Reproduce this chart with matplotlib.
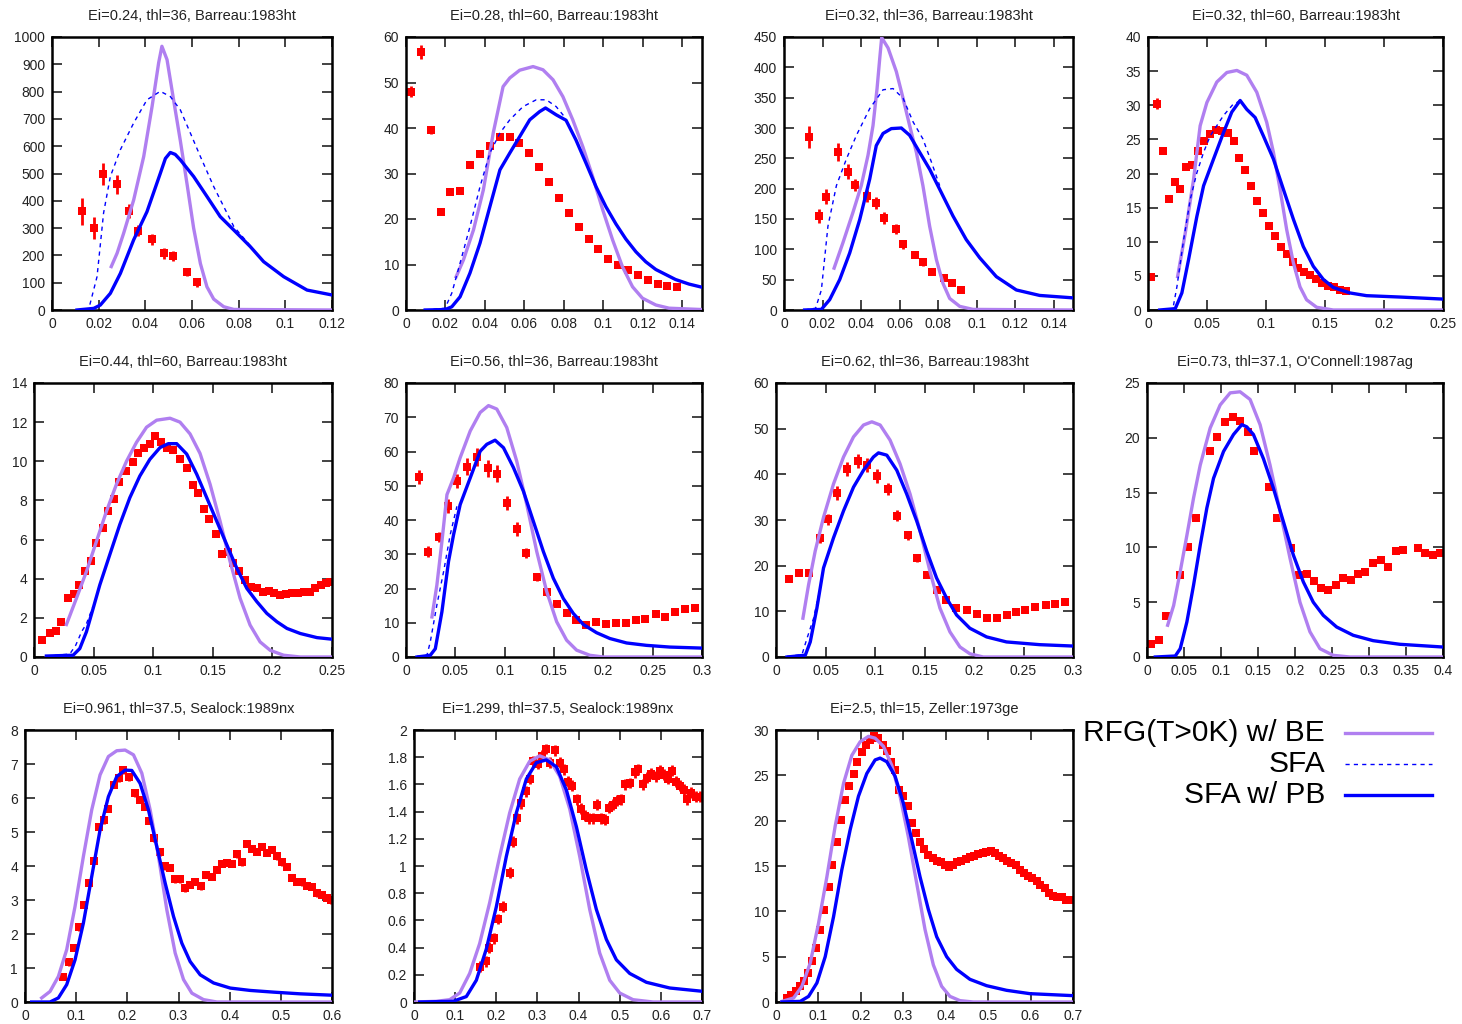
import matplotlib
matplotlib.use("Agg")
import matplotlib.pyplot as plt
from matplotlib.lines import Line2D
from matplotlib.ticker import MultipleLocator, FuncFormatter

plt.rcParams['font.family'] = ['Liberation Sans', 'DejaVu Sans']

PURPLE = '#b07ff0'
BLUE = '#0000ff'
RED = '#ff0000'

# ---- panel 1: Ei=0.24, thl=36
p1_x = [0.013, 0.018, 0.022, 0.028, 0.033, 0.037, 0.043, 0.048, 0.052, 0.058, 0.062]
p1_y = [361, 300, 497, 461, 363, 290, 259, 208, 198, 138, 101]
p1_err = [49, 40, 40, 35, 25, 20, 20, 20, 18, 15, 15]
p1_rfg_x = [0.0254, 0.0279, 0.0307, 0.035, 0.0393, 0.0429, 0.0457, 0.0471, 0.0493, 0.0521, 0.055, 0.0579,
            0.0607, 0.0636, 0.0664, 0.0693, 0.0736, 0.0779, 0.12]
p1_rfg_y = [159, 208, 281, 403, 562, 746, 905, 966, 917, 770, 620, 460, 300, 170, 85, 40, 12, 2, 0]
p1_sfa_x = [0.0107, 0.0157, 0.0193, 0.0221, 0.025, 0.0293, 0.035, 0.0407, 0.0464, 0.0507, 0.055, 0.0593,
            0.0636, 0.0693, 0.075, 0.0779, 0.085]
p1_sfa_y = [0, 2, 122, 355, 489, 587, 685, 770, 801, 782, 733, 648, 562, 452, 355, 306, 235]
p1_pb_x = [0.0107, 0.0179, 0.0207, 0.025, 0.0293, 0.035, 0.0407, 0.0464, 0.0486, 0.0507, 0.0528, 0.055,
           0.0607, 0.0664, 0.0721, 0.0779, 0.085, 0.0907, 0.0993, 0.1093, 0.12]
p1_pb_y = [0, 6, 18, 61, 134, 257, 360, 500, 555, 577, 570, 550, 489, 416, 342, 293, 232, 177, 122, 73, 55]

# ---- panel 2: Ei=0.28, thl=60
p2_x = [0.0025, 0.0075, 0.0125, 0.0175, 0.0225, 0.0275, 0.0325, 0.0375, 0.0425, 0.0475, 0.0525, 0.0575,
        0.0625, 0.0675, 0.0725, 0.0775, 0.0825, 0.0875, 0.0925, 0.0975, 0.1025, 0.1075, 0.1125, 0.1175,
        0.1225, 0.1275, 0.1325, 0.1375]
p2_y = [48.0, 56.7, 39.5, 21.6, 26.0, 26.2, 31.8, 34.3, 36.1, 38.0, 38.0, 36.6, 34.5, 31.5, 28.2, 24.7,
        21.3, 18.3, 15.6, 13.4, 11.3, 10.0, 8.7, 7.6, 6.5, 5.8, 5.3, 5.0]
p2_err = [1.2, 1.5, 0.8, 0.6, 0.6, 0.6, 0.6, 0.6, 0.6, 0.6, 0.6, 0.6, 0.5, 0.5, 0.5, 0.5, 0.5, 0.4, 0.4,
          0.4, 0.4, 0.4, 0.3, 0.3, 0.3, 0.3, 0.3, 0.3]
p2_rfg_x = [0.0254, 0.0291, 0.0342, 0.0392, 0.0442, 0.0492, 0.0526, 0.0576, 0.0644, 0.0694, 0.0745, 0.0795,
            0.0845, 0.0896, 0.0946, 0.0997, 0.1047, 0.1097, 0.1148, 0.1198, 0.1266, 0.1333, 0.15]
p2_rfg_y = [7.3, 11.0, 17.6, 26.4, 38.9, 49.1, 51.0, 52.7, 53.5, 52.8, 50.6, 46.9, 41.8, 35.9, 29.3, 22.0,
            15.4, 9.5, 5.1, 2.6, 1.1, 0.4, 0.1]
p2_sfa_x = [0.0097, 0.0198, 0.0232, 0.0274, 0.0324, 0.0375, 0.0425, 0.0476, 0.0526, 0.0593, 0.066, 0.0711,
            0.0761, 0.0795, 0.0811]
p2_sfa_y = [0, 0.4, 3.7, 10.3, 18.3, 27.1, 34.5, 38.9, 41.8, 44.7, 46.2, 46.2, 44.7, 42.9, 41.7]
p2_pb_x = [0.0097, 0.0198, 0.0232, 0.0274, 0.0324, 0.0375, 0.0425, 0.0476, 0.0526, 0.0576, 0.0627, 0.0677,
           0.0707, 0.0761, 0.0811, 0.0861, 0.0912, 0.0963, 0.1013, 0.1064, 0.1114, 0.1165, 0.1215, 0.1266,
           0.1316, 0.1366, 0.1434, 0.15]
p2_pb_y = [0, 0.1, 0.7, 2.9, 8.1, 14.7, 22.7, 30.8, 34.5, 38.1, 41.8, 43.6, 44.4, 42.9, 41.7, 37.4, 32.3,
           27.1, 22.7, 18.9, 15.6, 12.8, 10.6, 8.9, 7.8, 6.7, 5.7, 5.0]

# ---- panel 3: Ei=0.32, thl=36
p3_x = [0.013, 0.018, 0.022, 0.028, 0.033, 0.037, 0.043, 0.048, 0.052, 0.058, 0.062, 0.068, 0.072, 0.077,
        0.083, 0.087, 0.092]
p3_y = [285, 155, 187, 261, 228, 206, 188, 177, 152, 134, 108, 91, 79, 62, 52, 44, 33]
p3_err = [18, 12, 12, 15, 12, 10, 10, 10, 10, 8, 8, 6, 6, 5, 5, 4, 4]
p3_rfg_x = [0.026, 0.0306, 0.0358, 0.0401, 0.0436, 0.0462, 0.0483, 0.0497, 0.0507, 0.054, 0.0583, 0.0618,
            0.0652, 0.0687, 0.0721, 0.0756, 0.0791, 0.0825, 0.086, 0.0912, 0.0981, 0.15]
p3_rfg_y = [69, 111, 161, 205, 255, 304, 365, 415, 449, 432, 393, 349, 304, 260, 205, 138, 83, 44, 19, 6,
            1, 0]
p3_sfa_x = [0.0107, 0.0164, 0.0194, 0.0228, 0.0272, 0.0324, 0.0376, 0.0445, 0.0514, 0.0566, 0.0618, 0.067,
            0.0721, 0.0765, 0.0808]
p3_sfa_y = [0, 3, 33, 138, 205, 249, 288, 332, 363, 365, 349, 310, 282, 244, 205]
p3_pb_x = [0.0107, 0.0194, 0.0237, 0.0289, 0.0341, 0.0393, 0.0445, 0.0479, 0.0514, 0.0557, 0.0609, 0.0652,
           0.0704, 0.0756, 0.0808, 0.0877, 0.0946, 0.1016, 0.1102, 0.1206, 0.1327, 0.1414, 0.15]
p3_pb_y = [0, 1, 17, 50, 94, 149, 216, 271, 291, 299, 300, 288, 260, 232, 199, 155, 116, 86, 55, 33, 24,
           22, 20]

# ---- panel 4: Ei=0.32, thl=60
p4_x = [0.0025, 0.0075, 0.0125, 0.0175, 0.0225, 0.0275, 0.0325, 0.0375, 0.0425, 0.0475, 0.0525, 0.0575,
        0.0625, 0.0675, 0.0725, 0.0775, 0.0825, 0.0875, 0.0925, 0.0975, 0.1025, 0.1075, 0.1125, 0.1175,
        0.1225, 0.1275, 0.1325, 0.1375, 0.1425, 0.1475, 0.1525, 0.1575, 0.1625, 0.1675]
p4_y = [4.8, 30.2, 23.3, 16.3, 18.7, 17.7, 20.9, 21.3, 23.3, 24.8, 25.8, 26.4, 26.3, 26.0, 24.8, 22.3, 20.5,
        18.2, 16.0, 14.2, 12.3, 10.8, 9.3, 8.2, 7.1, 6.2, 5.6, 5.2, 4.5, 3.9, 3.5, 3.3, 3.0, 2.8]
p4_err = [0.3, 0.8] + [0.3] * 32
p4_rfg_x = [0.0251, 0.0316, 0.0386, 0.0442, 0.0499, 0.0583, 0.0668, 0.0753, 0.0837, 0.0922, 0.1006, 0.1063,
            0.1119, 0.1175, 0.1232, 0.1288, 0.1344, 0.1429, 0.157, 0.25]
p4_rfg_y = [4.9, 11.3, 19.1, 27.0, 30.4, 33.4, 34.8, 35.1, 34.4, 31.9, 27.5, 23.1, 17.7, 11.8, 6.9, 3.4,
            1.5, 0.4, 0, 0]
p4_sfa_x = [0.0099, 0.0211, 0.0245, 0.0302, 0.0358, 0.0414, 0.0471, 0.0527, 0.0583, 0.064, 0.0724, 0.0753,
            0.0781]
p4_sfa_y = [0, 0.2, 3.4, 10.3, 16.2, 20.1, 23.1, 25.5, 27.0, 28.5, 30.2, 30.4, 30.7]
p4_pb_x = [0.0099, 0.0231, 0.0287, 0.0344, 0.0414, 0.0471, 0.0555, 0.064, 0.071, 0.0781, 0.0837, 0.0908,
           0.0978, 0.1063, 0.1147, 0.1232, 0.1316, 0.1401, 0.1485, 0.157, 0.1711, 0.1852, 0.2134, 0.25]
p4_pb_y = [0, 0.2, 2.5, 7.4, 13.7, 18.2, 22.1, 26.0, 29.0, 30.7, 29.4, 28.2, 25.5, 22.1, 17.7, 13.3, 9.3,
           6.4, 4.5, 3.3, 2.5, 2.1, 1.9, 1.6]

# ---- panel 5: Ei=0.44, thl=60
p5_x = [0.007, 0.0132, 0.0182, 0.0224, 0.0289, 0.0334, 0.0376, 0.0432, 0.0476, 0.0524, 0.0575, 0.0622,
        0.0673, 0.0715, 0.0771, 0.0827, 0.0874, 0.0925, 0.0975, 0.1015, 0.1065, 0.1113, 0.1169, 0.1225,
        0.1281, 0.1331, 0.1379, 0.1427, 0.1471, 0.1525, 0.1575, 0.1625, 0.1673, 0.1721, 0.1771, 0.1819,
        0.1869, 0.192, 0.197, 0.2015, 0.2065, 0.2116, 0.2166, 0.2214, 0.2262, 0.2312, 0.236, 0.2407,
        0.2452, 0.2486]
p5_y = [0.86, 1.25, 1.34, 1.80, 3.0, 3.2, 3.68, 4.37, 4.92, 5.83, 6.6, 7.45, 8.09, 8.96, 9.48, 9.94, 10.4,
        10.7, 10.9, 11.3, 11.0, 10.7, 10.6, 10.1, 9.65, 8.79, 8.4, 7.57, 7.03, 6.31, 5.28, 5.36, 4.80, 4.40,
        3.94, 3.6, 3.51, 3.31, 3.38, 3.26, 3.17, 3.2, 3.26, 3.26, 3.31, 3.34, 3.55, 3.68, 3.77, 3.82]
p5_err = [0.1] * 50
p5_rfg_x = [0.0272, 0.0356, 0.044, 0.0524, 0.0608, 0.0692, 0.0776, 0.086, 0.0944, 0.1029, 0.1141, 0.1225,
            0.1309, 0.1393, 0.1477, 0.1561, 0.1645, 0.1729, 0.1813, 0.1897, 0.1982, 0.2094, 0.2234, 0.25]
p5_rfg_y = [1.66, 3.0, 4.37, 5.91, 7.45, 8.83, 10.0, 10.97, 11.74, 12.1, 12.2, 12.0, 11.4, 10.4, 8.83, 6.94,
            4.88, 3.0, 1.63, 0.77, 0.34, 0.09, 0, 0]
p5_sfa_x = [0.0104, 0.0300, 0.0350, 0.0400, 0.0440, 0.0496]
p5_sfa_y = [0.05, 0.15, 0.6, 1.3, 1.7, 2.6]
p5_pb_x = [0.0104, 0.0328, 0.0384, 0.044, 0.0496, 0.0552, 0.0636, 0.072, 0.0804, 0.0888, 0.0972, 0.1057,
           0.1127, 0.1197, 0.1281, 0.1365, 0.1449, 0.1533, 0.1617, 0.1701, 0.1785, 0.1869, 0.1953, 0.2038,
           0.2122, 0.2234, 0.2374, 0.25]
p5_pb_y = [0.05, 0.09, 0.43, 1.29, 2.48, 3.68, 5.23, 6.77, 8.14, 9.25, 10.1, 10.7, 10.9, 10.9, 10.37, 9.34,
           8.14, 6.94, 5.74, 4.54, 3.51, 2.83, 2.23, 1.8, 1.46, 1.2, 0.99, 0.91]

# ---- panel 6: Ei=0.56, thl=36
p6_x = [0.013, 0.022, 0.033, 0.043, 0.052, 0.062, 0.072, 0.083, 0.092, 0.102, 0.113, 0.122, 0.133, 0.143,
        0.153, 0.163, 0.172, 0.182, 0.193, 0.203, 0.213, 0.223, 0.233, 0.242, 0.253, 0.263, 0.273, 0.283,
        0.293]
p6_y = [52.5, 30.8, 35.0, 44.0, 51.3, 55.5, 58.4, 55.1, 53.5, 45.0, 37.4, 30.3, 23.3, 18.9, 15.6, 12.9,
        10.8, 9.3, 10.1, 9.7, 10.0, 10.0, 10.7, 11.0, 12.7, 11.7, 13.2, 13.9, 14.2]
p6_err = [2, 1.5, 1.5, 2, 2, 2.5, 2.5, 2.5, 2.5, 2, 2, 1.5, 1, 1, 1, 1, 0.8, 0.8, 0.8, 0.8, 0.8, 0.8,
          0.8, 0.8, 0.8, 0.8, 0.8, 0.8, 0.8]
p6_rfg_x = [0.0263, 0.0313, 0.0364, 0.0415, 0.0482, 0.0549, 0.0651, 0.0752, 0.0836, 0.092, 0.1021, 0.1122,
            0.1224, 0.1325, 0.1426, 0.1527, 0.1628, 0.1729, 0.1864, 0.2, 0.3]
p6_rfg_y = [11.7, 21.0, 33.7, 47.4, 52.3, 58.2, 66.0, 71.4, 73.4, 72.4, 67.0, 57.2, 44.5, 30.8, 19.1, 10.3,
            4.9, 2.0, 0.5, 0, 0]
p6_sfa_x = [0.0111, 0.0212, 0.0246, 0.0313, 0.0381, 0.0448, 0.0516]
p6_sfa_y = [0.2, 0.5, 4.4, 15.2, 24.9, 35.7, 44.0]
p6_pb_x = [0.0111, 0.0246, 0.0297, 0.0364, 0.0431, 0.0482, 0.0549, 0.0651, 0.0752, 0.0819, 0.0903, 0.0988,
           0.1089, 0.119, 0.1291, 0.1392, 0.1493, 0.1594, 0.1696, 0.1797, 0.1931, 0.2066, 0.2235, 0.2437,
           0.2673, 0.3]
p6_pb_y = [0, 0.5, 2.4, 13.2, 27.9, 35.7, 44.5, 52.3, 60.1, 62.1, 63.3, 61.1, 55.3, 48.4, 39.6, 30.8, 23.0,
           17.1, 12.7, 9.5, 7.1, 5.4, 4.1, 3.4, 2.9, 2.6]

# ---- panel 7: Ei=0.62, thl=36
p7_x = [0.013, 0.023, 0.033, 0.044, 0.053, 0.062, 0.072, 0.083, 0.092, 0.102, 0.113, 0.122, 0.133, 0.142,
        0.153, 0.163, 0.172, 0.182, 0.193, 0.203, 0.213, 0.223, 0.233, 0.242, 0.252, 0.262, 0.273, 0.282,
        0.292]
p7_y = [17.1, 18.4, 18.4, 26.0, 30.2, 35.9, 41.2, 42.9, 42.1, 39.6, 36.7, 30.9, 26.7, 21.7, 17.9, 14.7,
        12.4, 10.8, 10.2, 9.4, 8.5, 8.6, 9.3, 9.9, 10.2, 11.0, 11.3, 11.6, 12.1]
p7_err = [0.6, 0.6, 0.6, 1.0, 1.2, 1.5, 1.5, 1.5, 1.5, 1.5, 1.3, 1.2, 1.0, 0.8, 0.7, 0.6, 0.5, 0.5, 0.5,
          0.5, 0.5, 0.5, 0.5, 0.5, 0.5, 0.5, 0.5, 0.5, 0.5]
p7_rfg_x = [0.0272, 0.0329, 0.0396, 0.048, 0.0581, 0.0682, 0.0783, 0.0884, 0.0968, 0.1052, 0.1152, 0.1253,
            0.1354, 0.1455, 0.1555, 0.1656, 0.1757, 0.1858, 0.1959, 0.2093, 0.3]
p7_rfg_y = [8.5, 15.8, 23.2, 30.6, 37.9, 43.8, 48.2, 50.8, 51.5, 50.8, 47.5, 42.3, 35.7, 27.6, 18.8, 10.7,
            5.5, 2.2, 0.7, 0, 0]
p7_sfa_x = [0.0111, 0.0262, 0.0312, 0.038, 0.0447]
p7_sfa_y = [0.15, 0.5, 4.0, 8.5, 15.1]
p7_pb_x = [0.0111, 0.0296, 0.0346, 0.0413, 0.048, 0.0581, 0.0682, 0.0783, 0.0884, 0.0984, 0.1035, 0.1119,
           0.122, 0.132, 0.1421, 0.1522, 0.1622, 0.1723, 0.1824, 0.1958, 0.2127, 0.2328, 0.2664, 0.3]
p7_pb_y = [0, 0.4, 3.3, 10.7, 19.5, 26.1, 32.0, 37.2, 40.9, 43.8, 44.7, 44.2, 40.9, 35.7, 29.8, 23.2, 17.3,
           12.9, 9.2, 6.3, 4.4, 3.3, 2.7, 2.4]

# ---- panel 8: Ei=0.73, thl=37.1
p8_x = [0.005, 0.016, 0.026, 0.044, 0.055, 0.066, 0.085, 0.095, 0.106, 0.116, 0.126, 0.136, 0.145, 0.165,
        0.175, 0.195, 0.206, 0.216, 0.226, 0.235, 0.245, 0.255, 0.265, 0.276, 0.285, 0.295, 0.306, 0.316,
        0.326, 0.336, 0.346, 0.366, 0.376, 0.386, 0.396]
p8_y = [1.16, 1.52, 3.72, 7.47, 10.0, 12.65, 18.8, 20.1, 21.4, 21.9, 21.5, 20.5, 18.8, 15.5, 12.7, 9.9,
        7.47, 7.6, 6.9, 6.3, 6.1, 6.56, 7.17, 7.07, 7.6, 7.77, 8.54, 8.84, 8.23, 9.67, 9.76, 9.9, 9.51, 9.3,
        9.45]
p8_err = [0.2] * 35
p8_rfg_x = [0.0279, 0.036, 0.0449, 0.0539, 0.0629, 0.0719, 0.0854, 0.0989, 0.1124, 0.1258, 0.1393, 0.1528,
            0.1663, 0.1798, 0.1933, 0.2067, 0.2202, 0.2337, 0.2517, 0.2742, 0.4]
p8_rfg_y = [2.9, 4.7, 7.8, 11.1, 14.5, 17.5, 20.9, 23.0, 24.1, 24.2, 23.5, 21.2, 17.5, 13.3, 9.0, 5.0, 2.3,
            0.76, 0.15, 0, 0]
p8_pb_x = [0.0112, 0.0382, 0.0449, 0.0539, 0.0629, 0.0719, 0.0809, 0.0899, 0.1034, 0.1169, 0.1281, 0.1348,
           0.1438, 0.1573, 0.1708, 0.1843, 0.1978, 0.2112, 0.2247, 0.2382, 0.2562, 0.2787, 0.3056, 0.3416,
           0.4]
p8_pb_y = [0, 0.09, 0.76, 3.2, 6.55, 10.2, 13.6, 16.3, 18.75, 20.3, 21.2, 21.0, 20.3, 18.1, 15.4, 12.35,
           9.3, 6.86, 5.0, 3.8, 2.74, 1.98, 1.49, 1.16, 0.91]

# ---- panel 9: Ei=0.961, thl=37.5
p9_x = [0.075, 0.086, 0.096, 0.106, 0.116, 0.125, 0.134, 0.145, 0.154, 0.163, 0.173, 0.183, 0.192, 0.204,
        0.215, 0.224, 0.234, 0.243, 0.252, 0.263, 0.274, 0.284, 0.294, 0.303, 0.313, 0.323, 0.333, 0.344,
        0.354, 0.365, 0.375, 0.385, 0.395, 0.404, 0.414, 0.424, 0.434, 0.444, 0.453, 0.463, 0.473, 0.483,
        0.492, 0.502, 0.512, 0.522, 0.532, 0.541, 0.551, 0.561, 0.571, 0.580, 0.590, 0.598]
p9_y = [0.75, 1.17, 1.59, 2.2, 2.86, 3.5, 4.15, 5.14, 5.34, 5.68, 6.38, 6.58, 6.82, 6.61, 6.14, 5.94, 5.75,
        5.33, 4.82, 4.4, 3.99, 3.94, 3.61, 3.61, 3.35, 3.45, 3.54, 3.40, 3.74, 3.69, 3.89, 4.06, 4.10, 4.06,
        4.35, 4.11, 4.65, 4.50, 4.41, 4.57, 4.38, 4.48, 4.28, 4.11, 3.97, 3.66, 3.54, 3.52, 3.42, 3.38, 3.2,
        3.15, 3.06, 2.99]
p9_err = [0.1] * 54
p9_rfg_x = [0.0326, 0.0489, 0.0652, 0.0815, 0.0978, 0.1141, 0.1304, 0.1467, 0.163, 0.1793, 0.1957, 0.212,
            0.2283, 0.2446, 0.2609, 0.2772, 0.2935, 0.3098, 0.3261, 0.3489, 0.375, 0.6]
p9_rfg_y = [0.12, 0.31, 0.75, 1.54, 2.81, 4.28, 5.65, 6.68, 7.22, 7.39, 7.41, 7.27, 6.73, 5.65, 4.28, 2.71,
            1.44, 0.66, 0.26, 0.07, 0, 0]
p9_pb_x = [0.013, 0.0489, 0.0652, 0.0815, 0.0978, 0.1141, 0.1304, 0.1467, 0.163, 0.1793, 0.1957, 0.2087,
           0.225, 0.2413, 0.2576, 0.2739, 0.2902, 0.3065, 0.3228, 0.3424, 0.3685, 0.4011, 0.4402, 0.4859,
           0.538, 0.6]
p9_pb_y = [0, 0, 0.12, 0.51, 1.24, 2.32, 3.69, 5.06, 6.04, 6.63, 6.82, 6.81, 6.43, 5.65, 4.57, 3.5, 2.52,
           1.73, 1.19, 0.8, 0.56, 0.41, 0.34, 0.29, 0.24, 0.2]

# ---- panel 10: Ei=1.299, thl=37.5
p10_x = [0.160, 0.174, 0.182, 0.194, 0.204, 0.216, 0.233, 0.241, 0.250, 0.261, 0.272, 0.283, 0.290, 0.301,
         0.312, 0.322, 0.331, 0.343, 0.354, 0.365, 0.374, 0.385, 0.395, 0.407, 0.415, 0.425, 0.434, 0.445,
         0.455, 0.464, 0.473, 0.484, 0.494, 0.504, 0.514, 0.524, 0.536, 0.544, 0.557, 0.566, 0.577, 0.587,
         0.597, 0.607, 0.617, 0.626, 0.636, 0.646, 0.656, 0.664, 0.674, 0.685, 0.694]
p10_y = [0.26, 0.30, 0.40, 0.47, 0.61, 0.70, 0.95, 1.18, 1.35, 1.46, 1.55, 1.64, 1.77, 1.75, 1.81, 1.86,
         1.76, 1.85, 1.76, 1.71, 1.62, 1.59, 1.49, 1.42, 1.37, 1.35, 1.35, 1.45, 1.35, 1.34, 1.43, 1.45, 1.48,
         1.49, 1.60, 1.61, 1.69, 1.71, 1.60, 1.65, 1.68, 1.66, 1.70, 1.67, 1.64, 1.70, 1.62, 1.59, 1.56, 1.49,
         1.54, 1.51, 1.51]
p10_err = [0.04] * 53
p10_rfg_x = [0.0, 0.0543, 0.0867, 0.111, 0.1353, 0.1596, 0.1839, 0.2082, 0.2325, 0.2569, 0.2812, 0.3055,
             0.3298, 0.3541, 0.3785, 0.4028, 0.4271, 0.4514, 0.4757, 0.5, 0.5324, 0.581, 0.7]
p10_rfg_y = [0, 0.005, 0.017, 0.066, 0.21, 0.43, 0.73, 1.07, 1.39, 1.64, 1.77, 1.81, 1.78, 1.66, 1.42, 1.07,
             0.68, 0.36, 0.16, 0.066, 0.017, 0, 0]
p10_pb_x = [0.0138, 0.0948, 0.1272, 0.1515, 0.1758, 0.2001, 0.2244, 0.2487, 0.2731, 0.2974, 0.3217, 0.346,
            0.3703, 0.3946, 0.4189, 0.4433, 0.4676, 0.4919, 0.5243, 0.5648, 0.6215, 0.7]
p10_pb_y = [0, 0.005, 0.04, 0.16, 0.39, 0.7, 1.07, 1.39, 1.64, 1.76, 1.78, 1.73, 1.56, 1.29, 0.97, 0.68,
            0.46, 0.31, 0.21, 0.145, 0.103, 0.079]

# ---- panel 11: Ei=2.5, thl=15
p11_x = [0.026, 0.035, 0.046, 0.056, 0.065, 0.075, 0.085, 0.095, 0.104, 0.114, 0.124, 0.133, 0.143, 0.153,
         0.163, 0.173, 0.183, 0.192, 0.202, 0.212, 0.222, 0.231, 0.241, 0.252, 0.261, 0.270, 0.281, 0.291,
         0.300, 0.310, 0.320, 0.330, 0.339, 0.349, 0.359, 0.369, 0.379, 0.388, 0.398, 0.408, 0.418, 0.427,
         0.437, 0.448, 0.457, 0.466, 0.477, 0.487, 0.496, 0.506, 0.516, 0.526, 0.535, 0.545, 0.555, 0.565,
         0.575, 0.584, 0.594, 0.604, 0.614, 0.623, 0.633, 0.644, 0.653, 0.662, 0.673, 0.683, 0.696]
p11_y = [0.44, 0.81, 1.18, 1.73, 2.28, 3.19, 4.48, 5.95, 7.97, 10.2, 12.7, 15.1, 17.7, 20.1, 22.3, 23.8,
         25.2, 26.5, 27.6, 28.3, 28.9, 29.3, 29.1, 28.3, 27.7, 26.5, 25.6, 23.4, 22.7, 21.6, 19.7, 18.6, 17.7,
         16.9, 16.2, 15.9, 15.6, 15.4, 15.1, 14.9, 15.1, 15.4, 15.6, 15.8, 16.0, 16.1, 16.3, 16.4, 16.5, 16.6,
         16.4, 16.1, 15.9, 15.6, 15.3, 15.1, 14.6, 14.2, 13.9, 13.7, 13.3, 12.9, 12.6, 12.0, 11.7, 11.6, 11.6,
         11.3, 11.3]
p11_err = [0.3] * 69
p11_rfg_x = [0.0141, 0.0415, 0.0611, 0.0807, 0.1003, 0.1199, 0.1395, 0.1591, 0.1787, 0.1983, 0.2179, 0.2336,
             0.2532, 0.2728, 0.2924, 0.312, 0.3316, 0.3512, 0.3708, 0.3904, 0.41, 0.4335, 0.4649, 0.7]
p11_rfg_y = [0.07, 0.44, 1.73, 4.3, 8.7, 13.8, 19.4, 24.1, 27.2, 28.7, 29.3, 29.1, 28.2, 26.1, 22.7, 18.2,
             13.1, 8.0, 4.1, 1.73, 0.62, 0.15, 0, 0]
p11_pb_x = [0.0141, 0.0572, 0.0768, 0.0964, 0.116, 0.1356, 0.1552, 0.1748, 0.1944, 0.214, 0.2336, 0.2454,
            0.2611, 0.2807, 0.3003, 0.3199, 0.3395, 0.3591, 0.3787, 0.4022, 0.4257, 0.4571, 0.4963, 0.5433,
            0.5982, 0.7]
p11_pb_y = [0, 0.07, 0.62, 2.1, 5.0, 9.4, 14.6, 19.0, 22.7, 25.2, 26.7, 26.9, 26.5, 24.9, 21.9, 17.9, 13.8,
            10.2, 7.2, 5.0, 3.6, 2.5, 1.8, 1.29, 0.92, 0.7]

titles = ["Ei=0.24, thl=36, Barreau:1983ht", "Ei=0.28, thl=60, Barreau:1983ht",
          "Ei=0.32, thl=36, Barreau:1983ht", "Ei=0.32, thl=60, Barreau:1983ht",
          "Ei=0.44, thl=60, Barreau:1983ht", "Ei=0.56, thl=36, Barreau:1983ht",
          "Ei=0.62, thl=36, Barreau:1983ht", "Ei=0.73, thl=37.1, O'Connell:1987ag",
          "Ei=0.961, thl=37.5, Sealock:1989nx", "Ei=1.299, thl=37.5, Sealock:1989nx",
          "Ei=2.5, thl=15, Zeller:1973ge"]
xmax = [0.12, 0.15, 0.15, 0.25, 0.25, 0.3, 0.3, 0.4, 0.6, 0.7, 0.7]
xstep = [0.02, 0.02, 0.02, 0.05, 0.05, 0.05, 0.05, 0.05, 0.1, 0.1, 0.1]
ymax = [1000, 60, 450, 40, 14, 80, 60, 25, 8, 2, 30]
ystep = [100, 10, 50, 5, 2, 10, 10, 5, 1, 0.2, 5]

panels = [
    (p1_x, p1_y, p1_err, p1_rfg_x, p1_rfg_y, p1_sfa_x, p1_sfa_y, p1_pb_x, p1_pb_y),
    (p2_x, p2_y, p2_err, p2_rfg_x, p2_rfg_y, p2_sfa_x, p2_sfa_y, p2_pb_x, p2_pb_y),
    (p3_x, p3_y, p3_err, p3_rfg_x, p3_rfg_y, p3_sfa_x, p3_sfa_y, p3_pb_x, p3_pb_y),
    (p4_x, p4_y, p4_err, p4_rfg_x, p4_rfg_y, p4_sfa_x, p4_sfa_y, p4_pb_x, p4_pb_y),
    (p5_x, p5_y, p5_err, p5_rfg_x, p5_rfg_y, p5_sfa_x, p5_sfa_y, p5_pb_x, p5_pb_y),
    (p6_x, p6_y, p6_err, p6_rfg_x, p6_rfg_y, p6_sfa_x, p6_sfa_y, p6_pb_x, p6_pb_y),
    (p7_x, p7_y, p7_err, p7_rfg_x, p7_rfg_y, p7_sfa_x, p7_sfa_y, p7_pb_x, p7_pb_y),
    (p8_x, p8_y, p8_err, p8_rfg_x, p8_rfg_y, p8_pb_x, p8_pb_y, p8_pb_x, p8_pb_y),
    (p9_x, p9_y, p9_err, p9_rfg_x, p9_rfg_y, p9_pb_x, p9_pb_y, p9_pb_x, p9_pb_y),
    (p10_x, p10_y, p10_err, p10_rfg_x, p10_rfg_y, p10_pb_x, p10_pb_y, p10_pb_x, p10_pb_y),
    (p11_x, p11_y, p11_err, p11_rfg_x, p11_rfg_y, p11_pb_x, p11_pb_y, p11_pb_x, p11_pb_y),
]

# axes boxes in pixels (left, right, top, bottom)
W, H = 1462, 1024
boxes = [(52, 332, 37, 310), (406, 702, 37, 310), (784, 1073, 37, 310), (1148, 1443, 37, 310),
         (34, 332, 383, 657), (406, 702, 383, 657), (776, 1073, 383, 657), (1147, 1443, 383, 657),
         (25, 332, 730, 1002), (414, 702, 730, 1002), (776, 1073, 730, 1002)]

fig = plt.figure(figsize=(W / 100, H / 100), dpi=100)
fmt = FuncFormatter(lambda v, _: "%g" % round(v, 6))

for i, (dx, dy, de, rx, ry, sx, sy, bx, by) in enumerate(panels):
    l, r, t, b = boxes[i]
    ax = fig.add_axes([l / W, 1 - b / H, (r - l) / W, (b - t) / H])
    ax.errorbar(dx, dy, yerr=de, fmt='s', color=RED, ms=5.8, mew=0, elinewidth=2, capsize=0, zorder=2)
    ax.plot(rx, ry, color=PURPLE, lw=2.4, zorder=3)
    ax.plot(sx, sy, color=BLUE, lw=1.0, ls=(0, (3, 3)), zorder=4)
    ax.plot(bx, by, color=BLUE, lw=2.4, zorder=5)
    ax.set_xlim(0, xmax[i])
    ax.set_ylim(0, ymax[i])
    ax.xaxis.set_major_locator(MultipleLocator(xstep[i]))
    ax.yaxis.set_major_locator(MultipleLocator(ystep[i]))
    ax.xaxis.set_major_formatter(fmt)
    ax.yaxis.set_major_formatter(fmt)
    ax.tick_params(direction='in', top=True, right=True, length=7, width=1.2,
                   labelsize=10, pad=5, colors='#222222')
    for s in ax.spines.values():
        s.set_linewidth(1.8)
    ax.set_title(titles[i], fontsize=10.5, color='#222222', pad=12)

# legend, drawn at the right of the bottom row
labels = ["RFG(T>0K) w/ BE", "SFA", "SFA w/ PB"]
styles = [dict(color=PURPLE, lw=2.4), dict(color=BLUE, lw=1.0, ls=(0, (3, 3))), dict(color=BLUE, lw=2.4)]
for k, (lab, st) in enumerate(zip(labels, styles)):
    yy = 1 - (733 + 31 * k) / H
    fig.text(1325 / W, yy, lab, ha='right', va='center', fontsize=21.5)
    fig.add_artist(Line2D([1345 / W, 1432 / W], [yy, yy], transform=fig.transFigure, **st))

fig.savefig("out.png", dpi=100)
